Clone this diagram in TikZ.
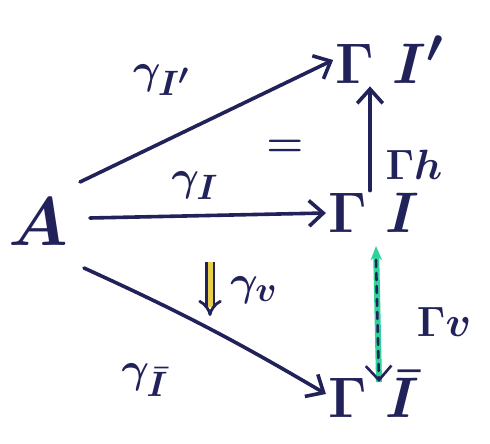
\documentclass[tikz,border=0pt]{standalone}
\usepackage{tikz}
\usepackage{xcolor}
\usetikzlibrary{arrows.meta,positioning,calc}
\definecolor{Paper}{HTML}{FFFFFF}
\definecolor{Ink}{HTML}{22225A}
\definecolor{Mark}{HTML}{E8CF4A}
\definecolor{Mint}{HTML}{2FD39A}
\tikzset{
  obj/.style={inner sep=1pt,font=\Huge\boldmath,scale=2.3,text=Ink},
  lab/.style={inner sep=1pt,font=\Huge\boldmath,scale=1.7,text=Ink},
  arr/.style={-{Straight Barb[length=5mm,width=9mm]},draw=Ink,line width=3.6pt,line cap=round},
  twocell/.style={double=Mark,double distance=5pt,draw=Ink,line width=2.8pt,-{Implies[length=4mm]}}
}
\begin{document}
\begin{tikzpicture}[x=1pt,y=-1pt]
  \useasboundingbox[fill=Paper] (0,0) rectangle (490,444);
  % objects
  \node[obj,scale=1.2] (A) at (38,222) {$A$};
  \node[obj] (top) at (390,60) {$\Gamma\;I'$};
  \node[obj] (mid) at (374,213) {$\Gamma\;I$};
  \node[obj] (bot) at (374,394) {$\Gamma\;\bar I$};
  % maps out of A
  \draw[arr] (80,182) -- (top.west);
  \draw[arr] (90,218) -- (mid.west);
  \draw[arr] (84,268) to[bend left=3] (bot.west);
  \node[lab] (gtop) at (162,80) {$\gamma_{I'}$};
  \node[lab] (gmid) at (195,186) {$\gamma_I$};
  \node[lab] (gbot) at (145,380) {$\gamma_{\bar I}$};
  % vertical maps
  \draw[arr] (mid.north -| 370,0) -- (top.south -| 370,0);
  \node[lab] (h) at (414,165) {$\Gamma h$};
  \node[lab] (eq) at (285,148) {$=$};
  \coordinate (vtop) at (376,246);
  \coordinate (vbot) at (379,382);
  \draw[-{Stealth[length=5mm,width=4mm]},draw=Mint,line width=6pt] (vbot) -- (vtop);
  \draw[arr,line width=2.6pt,dash pattern=on 7pt off 6pt] ([yshift=-14pt]vtop) -- (vbot);
  \node[lab] (v) at (444,322) {$\Gamma v$};
  % 2-cell
  \coordinate (cellhi) at (210,262);
  \coordinate (cello) at (210,316);
  \draw[twocell] (cellhi) -- (cello);
  \node[lab] (gv) at (254,290) {$\gamma_v$};
\end{tikzpicture}
\end{document}
